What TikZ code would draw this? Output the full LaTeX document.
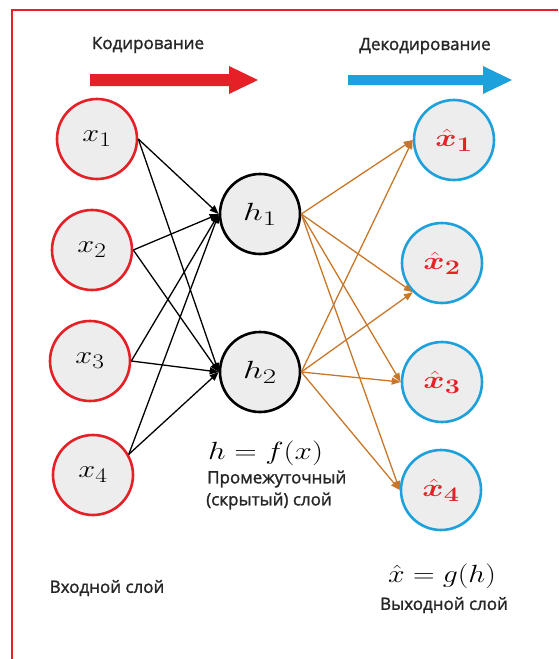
\documentclass[tikz,border=0pt]{standalone}
\usepackage{amsmath,bm}
\usepackage{graphicx}
\usepackage{fontspec}
\setmainfont{Open Sans}
\newfontfamily\lblfont[FakeBold=1.5]{Open Sans}
\newcommand{\wmath}[2][1.22]{\scalebox{#1}[1]{#2}}
\usetikzlibrary{arrows.meta}
\definecolor{inred}{HTML}{E52127}
\definecolor{outblue}{HTML}{1DA1DD}
\definecolor{fillgray}{HTML}{EDEDED}
\definecolor{edgeorange}{HTML}{C8772A}
\definecolor{textgray}{HTML}{262626}
\begin{document}
\begin{tikzpicture}[x=1pt,y=-1pt,
  neuron/.style={circle,minimum size=80pt,inner sep=0pt,fill=fillgray,line width=2.6pt,font=\fontsize{29}{34}\selectfont},
  inneuron/.style={neuron,draw=inred},
  hidneuron/.style={neuron,draw=black},
  outneuron/.style={neuron,draw=outblue,text=inred},
  enc/.style={-{Triangle[length=9pt,width=7pt]},line width=1.3pt,draw=black},
  dec/.style={-{Triangle[length=9pt,width=7pt]},line width=1.3pt,draw=edgeorange},
  lbl/.style={font=\lblfont\fontsize{17}{20}\selectfont,text=textgray,inner sep=0pt},
  eqn/.style={font=\fontsize{32}{38}\selectfont,inner sep=0pt}
]
\useasboundingbox (0,0) rectangle (558,659);
% border
\draw[inred,line width=2pt] (12,659) -- (12,10) -- (558,10);

% big arrows
\fill[inred] (90,74) -- (229,74) -- (229,66) -- (258,80) -- (229,94) -- (229,86) -- (90,86) -- cycle;
\fill[outblue] (348,75) -- (483,75) -- (483,66) -- (512,80) -- (483,94) -- (483,85) -- (348,85) -- cycle;
\node[lbl] (enctext) at (148,45) {Кодирование};
\node[lbl] (dectext) at (425,46) {Декодирование};

% neurons
\node[inneuron] (x1) at (97,139) {\wmath{$x_1$}};
\node[inneuron] (x2) at (92,250) {\wmath{$x_2$}};
\node[inneuron] (x3) at (90,361) {\wmath{$x_3$}};
\node[inneuron] (x4) at (93,475) {\wmath{$x_4$}};
\node[hidneuron] (h1) at (260,214) {\wmath[1.4]{$h_1$}};
\node[hidneuron] (h2) at (260,372) {\wmath[1.4]{$h_2$}};
\node[outneuron] (y1) at (454,140) {\wmath[1.3]{$\bm{\hat{x}_1}$}};
\node[outneuron] (y2) at (442,263) {\wmath[1.3]{$\bm{\hat{x}_2}$}};
\node[outneuron] (y3) at (442,382) {\wmath[1.3]{$\bm{\hat{x}_3}$}};
\node[outneuron] (y4) at (441,490) {\wmath[1.3]{$\bm{\hat{x}_4}$}};

% encoder connections
\foreach \s/\a in {x1/east,x2/east,x3/east,x4/30}{
  \draw[enc] (\s.\a) -- (h1.west);
  \draw[enc] (\s.\a) -- (h2.west);
}
% decoder connections
\foreach \s in {h1,h2}{
  \draw[dec] (\s.east) -- (y1.west);
  \draw[dec] (\s.east) -- (y2.south west);
  \draw[dec] (\s.east) -- (y3.west);
  \draw[dec] (\s.east) -- (y4.west);
}

% labels
\node[eqn,anchor=west] (hf) at (208,453) {\wmath[1.25]{$h = f(x)$}};
\node[lbl,anchor=west] (mid1) at (207,479) {Промежуточный};
\node[lbl,anchor=west] (mid2) at (206,501) {(скрытый) слой};
\node[lbl] (inlbl) at (107,588) {Входной слой};
\node[eqn] (xg) at (442,576) {\wmath[1.2]{$\hat{x} = g(h)$}};
\node[lbl] (outlbl) at (444,605) {Выходной слой};
\end{tikzpicture}
\end{document}
